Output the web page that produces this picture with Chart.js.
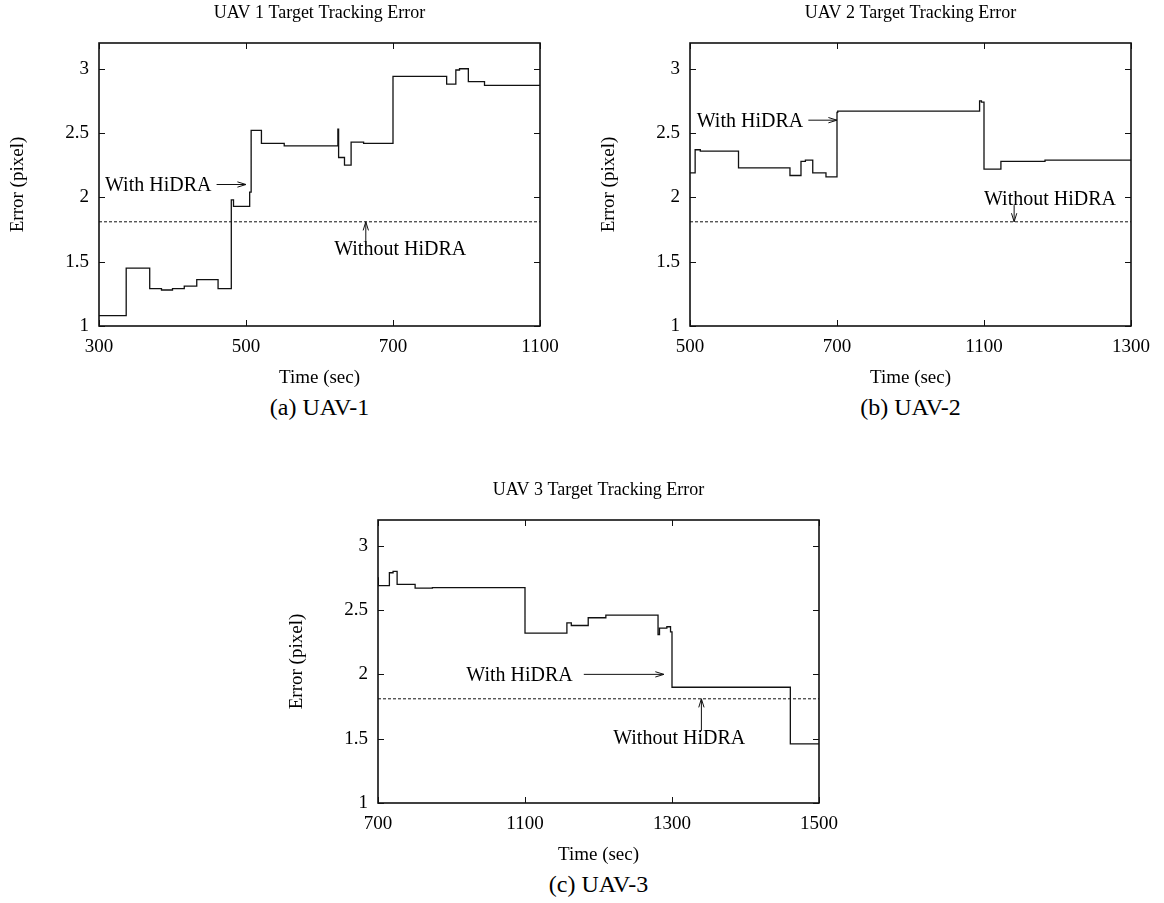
<!DOCTYPE html>
<html>
<head>
<meta charset="utf-8">
<script src="https://cdn.jsdelivr.net/npm/chart.js@4.4.1/dist/chart.umd.min.js"></script>
<style>
  body { margin: 0; background: #fff; }
  #page { position: relative; width: 1164px; height: 903px; overflow: hidden; font-family: "Liberation Serif", "DejaVu Serif", serif; }
  .box { position: absolute; width: 580px; height: 392px; }
  .cap { position: absolute; width: 441px; text-align: center; font-size: 24px; line-height: 24px; color: #000; }
</style>
</head>
<body>
<div id="page">
  <div class="box" style="left:0;top:0"><canvas id="uav1" width="580" height="392"></canvas></div>
  <div class="box" style="left:591px;top:0"><canvas id="uav2" width="580" height="392"></canvas></div>
  <div class="box" style="left:279px;top:477px"><canvas id="uav3" width="580" height="392"></canvas></div>
  <div class="cap" style="left:99px;top:395px">(a) UAV-1</div>
  <div class="cap" style="left:690px;top:395px">(b) UAV-2</div>
  <div class="cap" style="left:378px;top:872px">(c) UAV-3</div>
</div>
<script>
// shared axis values
var yTicks = [1, 1.5, 2, 2.5, 3];
var withoutHidra = 1.81;

// UAV 1 (time in sec, error in pixel)
var uav1Ticks = [300, 500, 700, 1100];
var uav1Time = [300, 337, 369, 385, 400, 416, 433, 462, 480, 483, 505, 507, 521, 552, 625, 626, 634, 643, 660, 700, 846, 871, 881, 905, 949, 988, 1100];
var uav1Err  = [1.08, 1.45, 1.29, 1.28, 1.29, 1.31, 1.36, 1.29, 1.98, 1.93, 2.04, 2.52, 2.42, 2.40, 2.53, 2.31, 2.25, 2.43, 2.42, 2.94, 2.88, 2.99, 3.00, 2.90, 2.87, 2.87, 2.87];

// UAV 2
var uav2Ticks = [500, 700, 1100, 1300];
var uav2Time = [500, 507, 514, 566, 636, 651, 657, 667, 685, 700, 702, 1088, 1093, 1100, 1123, 1183, 1300];
var uav2Err  = [2.19, 2.37, 2.36, 2.23, 2.17, 2.28, 2.29, 2.19, 2.16, 2.66, 2.67, 2.75, 2.74, 2.22, 2.28, 2.29, 2.29];

// UAV 3
var uav3Ticks = [700, 1100, 1300, 1500];
var uav3Time = [700, 701, 731, 741, 752, 801, 848, 1100, 1157, 1163, 1186, 1210, 1281, 1283, 1293, 1298, 1300, 1461, 1500];
var uav3Err  = [2.75, 2.69, 2.79, 2.80, 2.70, 2.67, 2.675, 2.32, 2.40, 2.38, 2.44, 2.46, 2.31, 2.36, 2.37, 2.33, 1.90, 1.46, 1.46];

// labels with arrows: text at (tx, ty), arrow from (x1,y1) to (x2,y2)
var uav1Notes = [
  { text: 'With HiDRA', tx: 453, ty: 2.09, align: 'right', x1: 460, y1: 2.10, x2: 500, y2: 2.10 },
  { text: 'Without HiDRA', tx: 620, ty: 1.59, align: 'left', x1: 663, y1: 1.66, x2: 663, y2: 1.81 }
];
var uav2Notes = [
  { text: 'With HiDRA', tx: 654, ty: 2.59, align: 'right', x1: 661, y1: 2.60, x2: 700, y2: 2.60 },
  { text: 'Without HiDRA', tx: 1100, ty: 1.98, align: 'left', x1: 1141, y1: 1.94, x2: 1141, y2: 1.81 }
];
var uav3Notes = [
  { text: 'With HiDRA', tx: 1165, ty: 1.99, align: 'right', x1: 1180, y1: 2.00, x2: 1289, y2: 2.00 },
  { text: 'Without HiDRA', tx: 1220, ty: 1.50, align: 'left', x1: 1340, y1: 1.56, x2: 1340, y2: 1.81 }
];

var serif = '"Liberation Serif", "DejaVu Serif", serif';

// the x axis has evenly spaced ticks with uneven time gaps, so map time -> tick position
function toPos(t, ticks) {
  for (var i = 0; i < ticks.length - 1; i++) {
    if (t <= ticks[i + 1] || i === ticks.length - 2) {
      return i + (t - ticks[i]) / (ticks[i + 1] - ticks[i]);
    }
  }
}

function seg(ctx, x1, y1, x2, y2) {
  ctx.beginPath();
  ctx.moveTo(x1, y1);
  ctx.lineTo(x2, y2);
  ctx.stroke();
}

// box around the plot and inward tick marks on all four sides
var framePlugin = {
  id: 'frame',
  afterDatasetsDraw: function (chart) {
    var a = chart.chartArea, ctx = chart.ctx;
    var xs = chart.scales.x, ys = chart.scales.y;
    ctx.save();
    ctx.strokeStyle = '#111';
    ctx.lineWidth = 1;
    ys.ticks.forEach(function (t) {
      var y = Math.round(ys.getPixelForValue(t.value)) + 0.5;
      seg(ctx, a.left, y, a.left + 6, y);
      seg(ctx, a.right - 6, y, a.right, y);
    });
    xs.ticks.forEach(function (t) {
      var x = Math.round(xs.getPixelForValue(t.value)) + 0.5;
      seg(ctx, x, a.bottom, x, a.bottom - 6);
      seg(ctx, x, a.top, x, a.top + 6);
    });
    ctx.lineWidth = 1.6;
    ctx.strokeRect(a.left, a.top, a.right - a.left, a.bottom - a.top);
    ctx.restore();
  }
};

var notesPlugin = {
  id: 'notes',
  afterDatasetsDraw: function (chart, args, opts) {
    var ctx = chart.ctx, xs = chart.scales.x, ys = chart.scales.y;
    ctx.save();
    ctx.fillStyle = '#000';
    ctx.strokeStyle = '#111';
    ctx.lineWidth = 1;
    ctx.font = '20px ' + serif;
    ctx.textBaseline = 'middle';
    opts.items.forEach(function (n) {
      ctx.textAlign = n.align;
      ctx.fillText(n.text, xs.getPixelForValue(toPos(n.tx, opts.ticks)), ys.getPixelForValue(n.ty));
      var x1 = xs.getPixelForValue(toPos(n.x1, opts.ticks)), y1 = ys.getPixelForValue(n.y1);
      var x2 = xs.getPixelForValue(toPos(n.x2, opts.ticks)), y2 = ys.getPixelForValue(n.y2);
      seg(ctx, x1, y1, x2, y2);
      var ang = Math.atan2(y2 - y1, x2 - x1);
      ctx.beginPath();
      ctx.moveTo(x2 - 9 * Math.cos(ang - 0.3), y2 - 9 * Math.sin(ang - 0.3));
      ctx.lineTo(x2, y2);
      ctx.lineTo(x2 - 9 * Math.cos(ang + 0.3), y2 - 9 * Math.sin(ang + 0.3));
      ctx.stroke();
    });
    ctx.restore();
  }
};

function makeChart(id, title, tickSecs, times, errs, notes) {
  var pts = times.map(function (t, i) { return { x: toPos(t, tickSecs), y: errs[i] }; });
  var last = tickSecs.length - 1;
  return new Chart(document.getElementById(id), {
    type: 'line',
    data: {
      datasets: [
        { data: pts, stepped: 'before', borderColor: '#111', borderWidth: 1.3, pointRadius: 0, fill: false },
        { data: [{ x: 0, y: withoutHidra }, { x: last, y: withoutHidra }], borderColor: '#111', borderWidth: 1, borderDash: [3, 2], pointRadius: 0, fill: false }
      ]
    },
    options: {
      responsive: false,
      animation: false,
      events: [],
      layout: { padding: { left: 0, top: 0, right: 40, bottom: 0 } },
      plugins: {
        legend: { display: false },
        tooltip: { enabled: false },
        title: {
          display: true, text: title, fullSize: false, color: '#000',
          font: { family: serif, size: 18, weight: 'normal', lineHeight: 1.2 },
          padding: { top: 2.2, bottom: 19.2 }
        },
        notes: { items: notes, ticks: tickSecs }
      },
      scales: {
        x: {
          type: 'linear', min: 0, max: last,
          afterBuildTicks: function (s) { s.ticks = tickSecs.map(function (v, i) { return { value: i }; }); },
          afterFit: function (s) { s.height = 66; },
          grid: { display: false, drawTicks: false },
          border: { display: false },
          ticks: {
            color: '#000', padding: 10, maxRotation: 0, autoSkip: false,
            font: { family: serif, size: 19 },
            callback: function (v) { return String(tickSecs[v]); }
          },
          title: { display: true, text: 'Time (sec)', color: '#000', font: { family: serif, size: 19 }, padding: { top: 0, bottom: 2.6 } }
        },
        y: {
          min: 1, max: 3.2,
          afterBuildTicks: function (s) { s.ticks = yTicks.map(function (v) { return { value: v }; }); },
          afterFit: function (s) { s.width = 99; },
          grid: { display: false, drawTicks: false },
          border: { display: false },
          ticks: {
            color: '#000', padding: 10,
            font: { family: serif, size: 19 },
            callback: function (v) { return String(v); }
          },
          title: { display: true, text: 'Error (pixel)', color: '#000', font: { family: serif, size: 19 }, padding: { top: 6.6, bottom: 0 } }
        }
      }
    },
    plugins: [framePlugin, notesPlugin]
  });
}

makeChart('uav1', 'UAV 1 Target Tracking Error', uav1Ticks, uav1Time, uav1Err, uav1Notes);
makeChart('uav2', 'UAV 2 Target Tracking Error', uav2Ticks, uav2Time, uav2Err, uav2Notes);
makeChart('uav3', 'UAV 3 Target Tracking Error', uav3Ticks, uav3Time, uav3Err, uav3Notes);
</script>
</body>
</html>
